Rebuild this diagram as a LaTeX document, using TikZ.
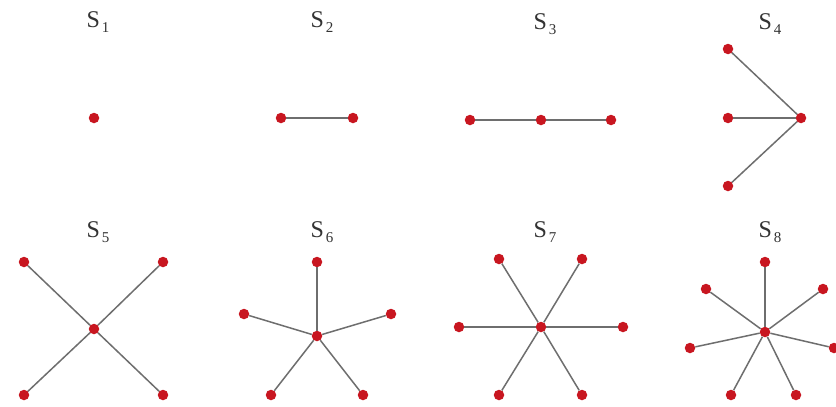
\documentclass[tikz,border=0pt]{standalone}
\usepackage{fontspec}
\setmainfont{Liberation Serif}
\definecolor{dotred}{RGB}{200,22,32}
\definecolor{edgegray}{RGB}{110,110,110}
\newcommand{\starlabel}[1]{{\fontsize{24}{28}\selectfont S}\kern2pt\raisebox{-5pt}{\fontsize{15}{17}\selectfont #1}}
\begin{document}
\begin{tikzpicture}[x=1pt,y=-1pt,
  vtx/.style={circle,fill=dotred,inner sep=0pt,minimum size=10.5pt},
  edge/.style={draw=edgegray,line width=1.5pt},
  lbl/.style={inner sep=0pt,text=black!80}]
\useasboundingbox[fill=white] (0,0) rectangle (836,407);
% labels
\node[lbl] (l1) at (98,22) {\starlabel{1}};
\node[lbl] (l2) at (322,22) {\starlabel{2}};
\node[lbl] (l3) at (545,24) {\starlabel{3}};
\node[lbl] (l4) at (770,24) {\starlabel{4}};
\node[lbl] (l5) at (98,232) {\starlabel{5}};
\node[lbl] (l6) at (322,232) {\starlabel{6}};
\node[lbl] (l7) at (545,232) {\starlabel{7}};
\node[lbl] (l8) at (770,232) {\starlabel{8}};
% S1
\node[vtx] (a0) at (94,118) {};
% S2
\node[vtx] (b0) at (281,118) {};
\node[vtx] (b1) at (353,118) {};
% S3
\node[vtx] (c0) at (541,120) {};
\node[vtx] (c1) at (470,120) {};
\node[vtx] (c2) at (611,120) {};
% S4
\node[vtx] (d0) at (801,118) {};
\node[vtx] (d1) at (728,49) {};
\node[vtx] (d2) at (728,118) {};
\node[vtx] (d3) at (728,186) {};
% S5
\node[vtx] (e0) at (94,329) {};
\node[vtx] (e1) at (24,262) {};
\node[vtx] (e2) at (163,262) {};
\node[vtx] (e3) at (24,395) {};
\node[vtx] (e4) at (163,395) {};
% S6
\node[vtx] (f0) at (317,336) {};
\node[vtx] (f1) at (317,262) {};
\node[vtx] (f2) at (244,314) {};
\node[vtx] (f3) at (391,314) {};
\node[vtx] (f4) at (271,395) {};
\node[vtx] (f5) at (363,395) {};
% S7
\node[vtx] (g0) at (541,327) {};
\node[vtx] (g1) at (499,259) {};
\node[vtx] (g2) at (582,259) {};
\node[vtx] (g3) at (459,327) {};
\node[vtx] (g4) at (623,327) {};
\node[vtx] (g5) at (499,395) {};
\node[vtx] (g6) at (582,395) {};
% S8
\node[vtx] (h0) at (765,332) {};
\node[vtx] (h1) at (765,262) {};
\node[vtx] (h2) at (706,289) {};
\node[vtx] (h3) at (823,289) {};
\node[vtx] (h4) at (690,348) {};
\node[vtx] (h5) at (834,348) {};
\node[vtx] (h6) at (731,395) {};
\node[vtx] (h7) at (796,395) {};
% edges
\draw[edge] (b0) -- (b1);
\draw[edge] (c1) -- (c0) -- (c2);
\foreach \i in {1,2,3} \draw[edge] (d0) -- (d\i);
\foreach \i in {1,...,4} \draw[edge] (e0) -- (e\i);
\foreach \i in {1,...,5} \draw[edge] (f0) -- (f\i);
\foreach \i in {1,...,6} \draw[edge] (g0) -- (g\i);
\foreach \i in {1,...,7} \draw[edge] (h0) -- (h\i);
\end{tikzpicture}
\end{document}
